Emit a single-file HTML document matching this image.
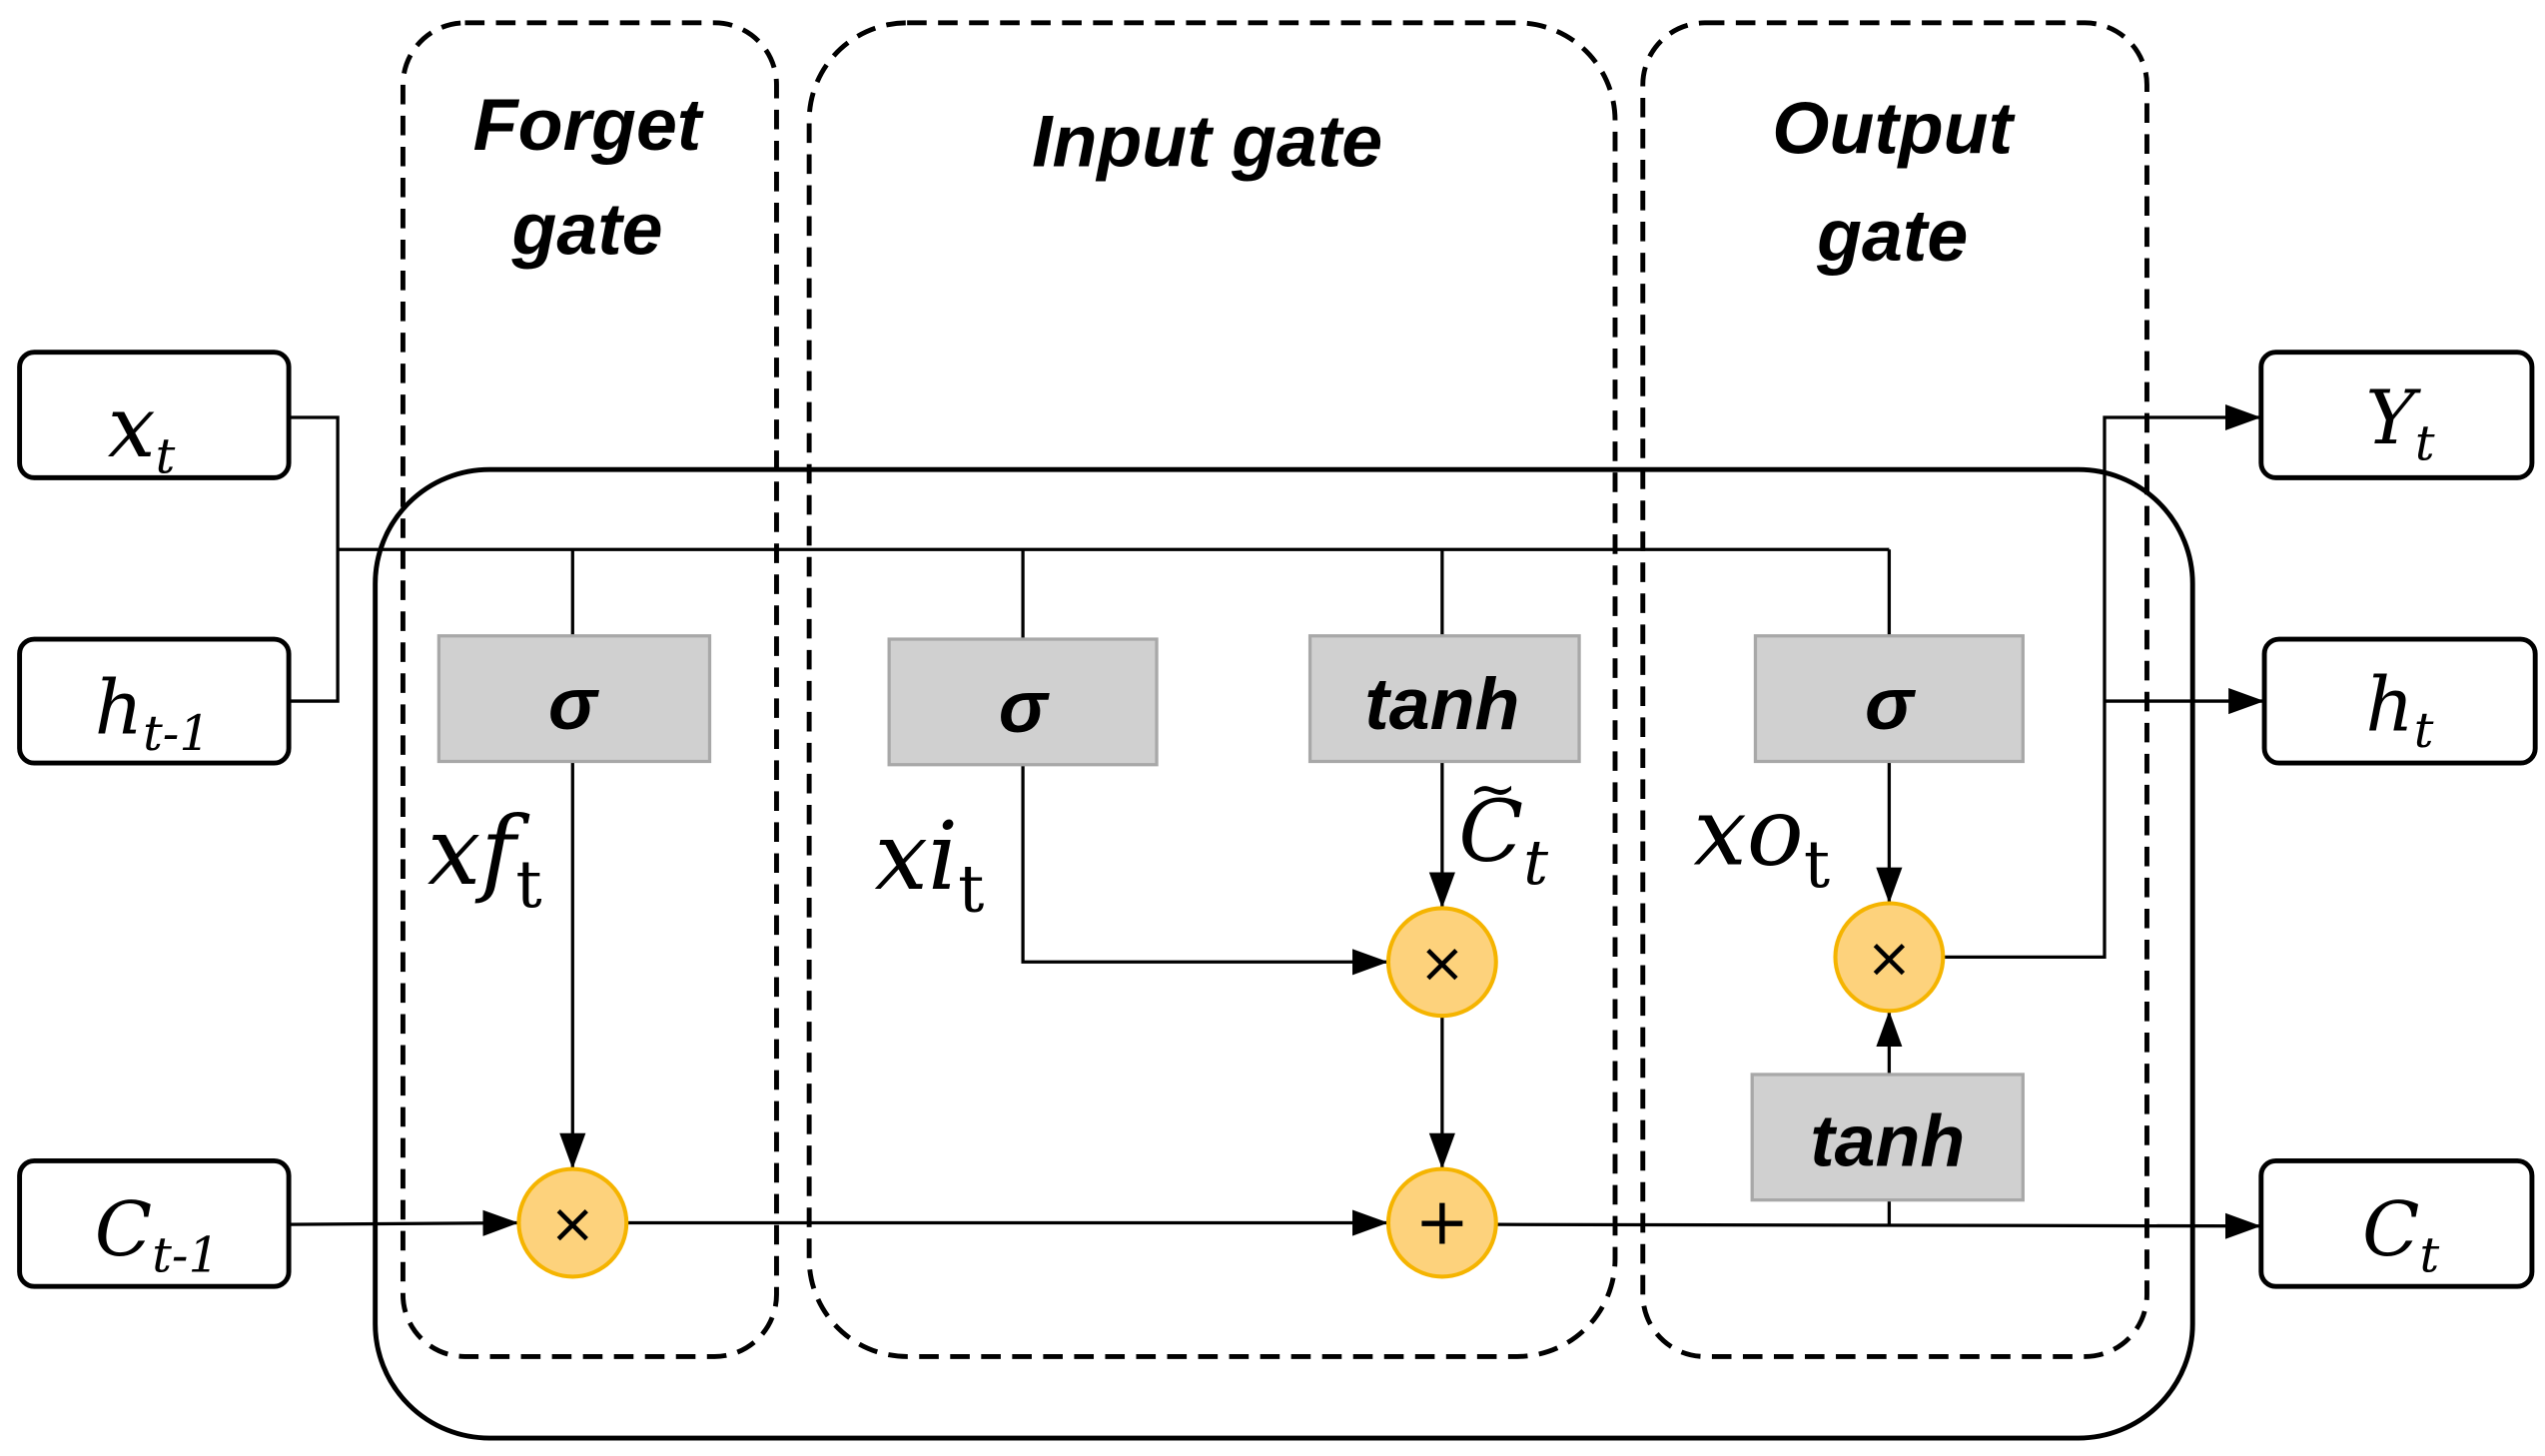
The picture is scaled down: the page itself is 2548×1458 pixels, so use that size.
<!DOCTYPE html>
<html><head><meta charset="utf-8"><style>html,body{margin:0;padding:0;background:#fff}svg{display:block}</style></head>
<body>
<svg width="2548" height="1458" viewBox="0 0 1560 893" preserveAspectRatio="none" xmlns="http://www.w3.org/2000/svg">
<defs>
<marker id="b" markerWidth="22" markerHeight="22" refX="21" refY="11" orient="auto" markerUnits="userSpaceOnUse" viewBox="0 0 22 22">
<path d="M0,3 L22,11 L0,19 z" fill="#000"/></marker>
</defs>
<g fill="none" stroke="#000" stroke-width="3" stroke-dasharray="12,7">
<rect x="247" y="14" width="229" height="818" rx="38"/>
<rect x="496" y="14" width="494" height="818" rx="60"/>
<rect x="1007" y="14" width="309" height="818" rx="38"/>
</g>
<rect x="230" y="288" width="1114" height="594" rx="70" fill="none" stroke="#000" stroke-width="3"/>
<g fill="#fff" stroke="#000" stroke-width="3">
<rect x="12" y="216" width="165" height="77" rx="9"/>
<rect x="12" y="392" width="165" height="76" rx="9"/>
<rect x="12" y="712" width="165" height="77" rx="9"/>
<rect x="1386" y="216" width="166" height="77" rx="9"/>
<rect x="1388" y="392" width="166" height="76" rx="9"/>
<rect x="1386" y="712" width="166" height="77" rx="9"/>
</g>
<g fill="none" stroke="#000" stroke-width="2">
<polyline points="177,256 207,256 207,430 177,430"/>
<line x1="207" y1="337" x2="1158" y2="337"/>
<line x1="351" y1="337" x2="351" y2="390"/>
<line x1="627" y1="337" x2="627" y2="392"/>
<line x1="884" y1="337" x2="884" y2="390"/>
<line x1="1158" y1="337" x2="1158" y2="390"/>
<line x1="351" y1="467" x2="351" y2="716" marker-end="url(#b)"/>
<line x1="177" y1="751" x2="317" y2="750" marker-end="url(#b)"/>
<line x1="384" y1="750" x2="850" y2="750" marker-end="url(#b)"/>
<polyline points="627,469 627,590 850,590" marker-end="url(#b)"/>
<line x1="884" y1="467" x2="884" y2="556" marker-end="url(#b)"/>
<line x1="884" y1="623" x2="884" y2="716" marker-end="url(#b)"/>
<line x1="917" y1="751" x2="1385" y2="752" marker-end="url(#b)"/>
<line x1="1158" y1="467" x2="1158" y2="553" marker-end="url(#b)"/>
<line x1="1158" y1="659" x2="1158" y2="621" marker-end="url(#b)"/>
<line x1="1158" y1="736" x2="1158" y2="752"/>
<polyline points="1191,587 1290,587 1290,256 1385,256" marker-end="url(#b)"/>
<line x1="1290" y1="430" x2="1387" y2="430" marker-end="url(#b)"/>
</g>
<g fill="#d0d0d0" stroke="#a8a8a8" stroke-width="2">
<rect x="269" y="390" width="166" height="77"/>
<rect x="545" y="392" width="164" height="77"/>
<rect x="803" y="390" width="165" height="77"/>
<rect x="1076" y="390" width="164" height="77"/>
<rect x="1074" y="659" width="166" height="77"/>
</g>
<g fill="#fdd27c" stroke="#f5b400" stroke-width="2.5">
<circle cx="351" cy="750" r="33"/>
<circle cx="884" cy="590" r="33"/>
<circle cx="884" cy="750" r="33"/>
<circle cx="1158" cy="587" r="33"/>
</g>
<g font-family="DejaVu Sans, sans-serif" font-size="34" text-anchor="middle" fill="#000">
<text x="351" y="762">×</text><text x="884" y="602">×</text><text x="884" y="763" font-size="40">+</text><text x="1158" y="599">×</text>
</g>
<g font-family="Liberation Sans, sans-serif" font-weight="bold" font-style="italic" font-size="45" text-anchor="middle" fill="#000">
<text x="360" y="92">Forget</text><text x="360" y="156">gate</text>
<text x="740" y="102">Input gate</text>
<text x="1160" y="94">Output</text><text x="1160" y="160">gate</text>
<text x="351" y="447">σ</text><text x="627" y="449">σ</text><text x="884" y="447">tanh</text>
<text x="1158" y="447">σ</text><text x="1157" y="715">tanh</text>
</g>
<g font-family="DejaVu Serif, serif" font-style="italic" fill="#000">
<text x="66" y="280" font-size="52">x<tspan font-size="30" dy="10">t</tspan></text>
<text x="58" y="450" font-size="46">h<tspan font-size="30" dy="10">t-1</tspan></text>
<text x="58" y="770" font-size="46">C<tspan font-size="30" dy="10">t-1</tspan></text>
<text x="1450" y="272" font-size="46">Y<tspan font-size="30" dy="10">t</tspan></text>
<text x="1450" y="448" font-size="46">h<tspan font-size="30" dy="10">t</tspan></text>
<text x="1448" y="770" font-size="46">C<tspan font-size="30" dy="10">t</tspan></text>
<text x="262" y="542" font-size="58">xf<tspan font-style="normal" font-size="40" dy="14">t</tspan></text>
<text x="536" y="545" font-size="58">xi<tspan font-style="normal" font-size="40" dy="14">t</tspan></text>
<text x="1038" y="530" font-size="58">xo<tspan font-style="normal" font-size="40" dy="14">t</tspan></text>
<text x="894" y="528" font-size="52">C<tspan font-size="38" dy="14">t</tspan></text>
<text x="900" y="496" font-size="36">~</text>
</g>
</svg>
</body></html>
